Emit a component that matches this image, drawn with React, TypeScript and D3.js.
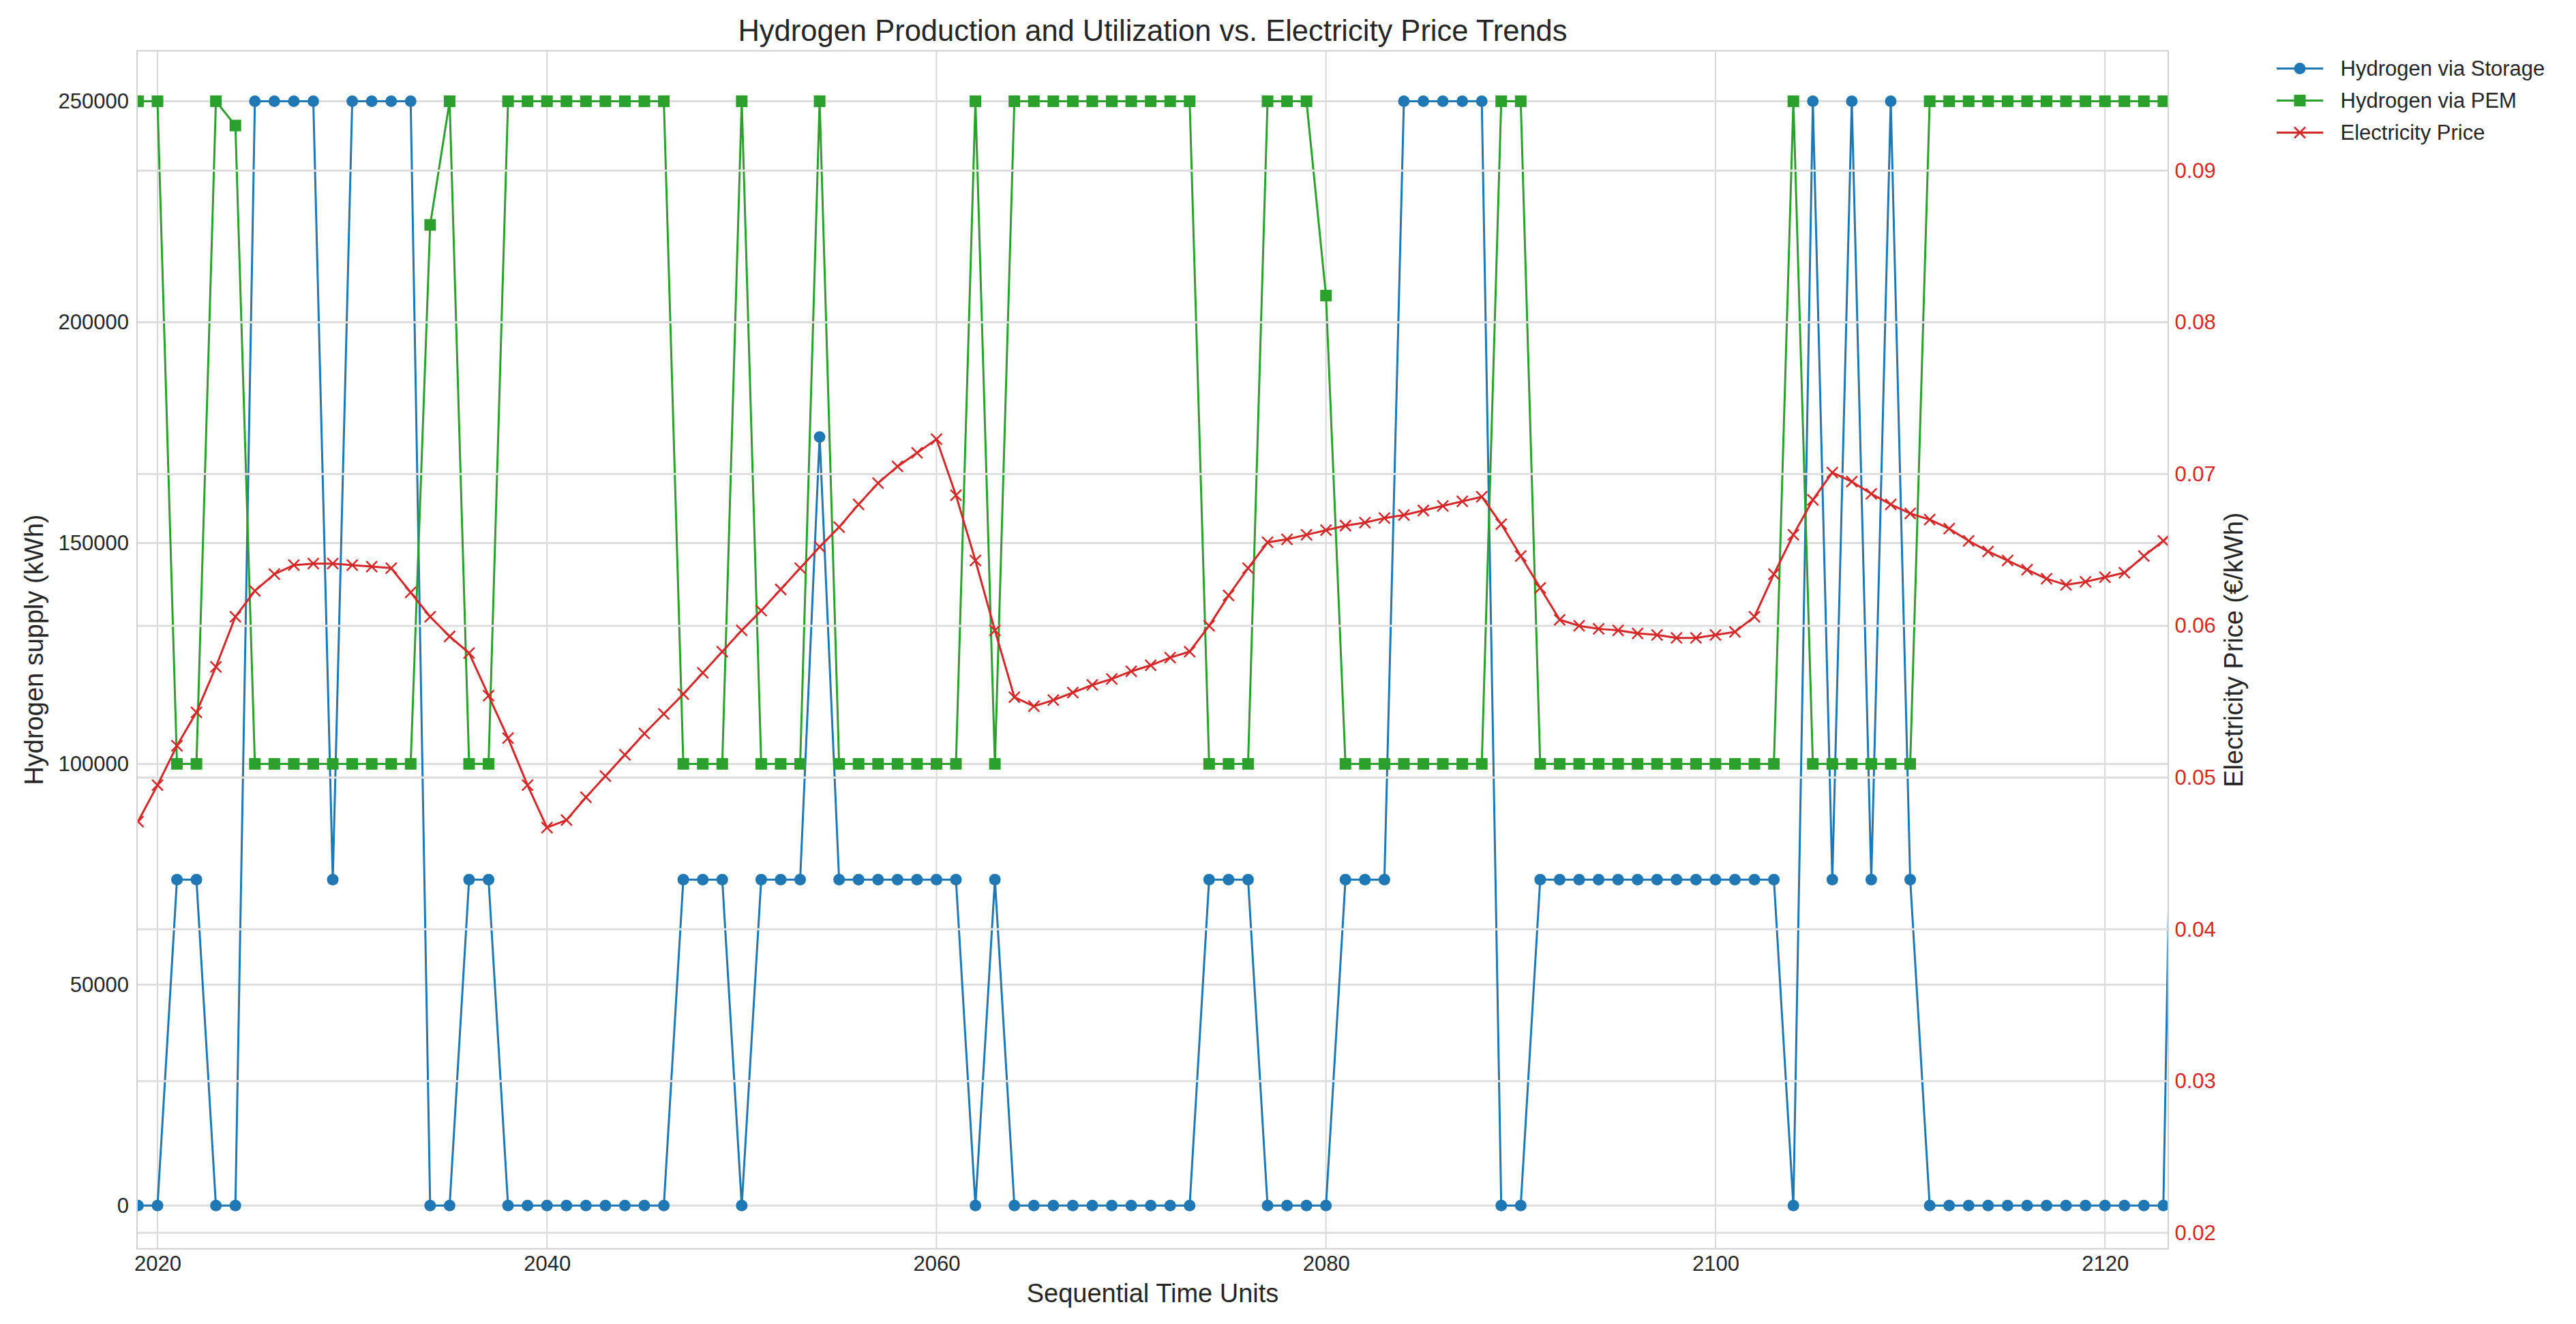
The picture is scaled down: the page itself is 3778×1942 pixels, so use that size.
import React, { useEffect, useRef } from 'react';
import * as d3 from 'd3';

// Sequential time units (first value of the series)
const startYear = 2019;

// Hydrogen via Storage (kWh), one value per time unit from 2019
const storageSupply = [
  0, 0, 73800, 73800, 0, 0, 250000, 250000, 250000, 250000,
  73800, 250000, 250000, 250000, 250000, 0, 0, 73800, 73800, 0,
  0, 0, 0, 0, 0, 0, 0, 0, 73800, 73800,
  73800, 0, 73800, 73800, 73800, 174000, 73800, 73800, 73800, 73800,
  73800, 73800, 73800, 0, 73800, 0, 0, 0, 0, 0,
  0, 0, 0, 0, 0, 73800, 73800, 73800, 0, 0,
  0, 0, 73800, 73800, 73800, 250000, 250000, 250000, 250000, 250000,
  0, 0, 73800, 73800, 73800, 73800, 73800, 73800, 73800, 73800,
  73800, 73800, 73800, 73800, 73800, 0, 250000, 73800, 250000, 73800,
  250000, 73800, 0, 0, 0, 0, 0, 0, 0, 0,
  0, 0, 0, 0, 0, 250000
];

// Hydrogen via PEM (kWh)
const pemSupply = [
  250000, 250000, 100000, 100000, 250000, 244500, 100000, 100000, 100000, 100000,
  100000, 100000, 100000, 100000, 100000, 222000, 250000, 100000, 100000, 250000,
  250000, 250000, 250000, 250000, 250000, 250000, 250000, 250000, 100000, 100000,
  100000, 250000, 100000, 100000, 100000, 250000, 100000, 100000, 100000, 100000,
  100000, 100000, 100000, 250000, 100000, 250000, 250000, 250000, 250000, 250000,
  250000, 250000, 250000, 250000, 250000, 100000, 100000, 100000, 250000, 250000,
  250000, 206000, 100000, 100000, 100000, 100000, 100000, 100000, 100000, 100000,
  250000, 250000, 100000, 100000, 100000, 100000, 100000, 100000, 100000, 100000,
  100000, 100000, 100000, 100000, 100000, 250000, 100000, 100000, 100000, 100000,
  100000, 100000, 250000, 250000, 250000, 250000, 250000, 250000, 250000, 250000,
  250000, 250000, 250000, 250000, 250000, 250000
];

// Electricity price (EUR/kWh)
const electricityPrice = [
  0.0471, 0.0495, 0.0521, 0.0543, 0.0573, 0.0606, 0.0623, 0.0634, 0.0640, 0.0641,
  0.0641, 0.0640, 0.0639, 0.0638, 0.0622, 0.0606, 0.0593, 0.0582, 0.0554, 0.0526,
  0.0495, 0.0467, 0.0472, 0.0487, 0.0501, 0.0515, 0.0529, 0.0542, 0.0555, 0.0569,
  0.0583, 0.0597, 0.0610, 0.0624, 0.0638, 0.0652, 0.0665, 0.0680, 0.0694, 0.0705,
  0.0714, 0.0723, 0.0686, 0.0643, 0.0597, 0.0553, 0.0547, 0.0551, 0.0556, 0.0561,
  0.0565, 0.0570, 0.0574, 0.0579, 0.0583, 0.0600, 0.0620, 0.0638, 0.0655, 0.0657,
  0.0660, 0.0663, 0.0666, 0.0668, 0.0671, 0.0673, 0.0676, 0.0679, 0.0682, 0.0685,
  0.0667, 0.0646, 0.0625, 0.0604, 0.0600, 0.0598, 0.0597, 0.0595, 0.0594, 0.0592,
  0.0592, 0.0594, 0.0596, 0.0606, 0.0634, 0.0660, 0.0683, 0.0701, 0.0695, 0.0687,
  0.0680, 0.0674, 0.0670, 0.0664, 0.0656, 0.0649, 0.0643, 0.0637, 0.0631, 0.0627,
  0.0629, 0.0632, 0.0635, 0.0646, 0.0656, 0.0668
];

const years = d3.range(startYear, startYear + storageSupply.length);

const yearTicks = [2020, 2040, 2060, 2080, 2100, 2120];
const supplyTicks = [0, 50000, 100000, 150000, 200000, 250000];
const priceTicks = [0.02, 0.03, 0.04, 0.05, 0.06, 0.07, 0.08, 0.09];

const seriesNames = ['Hydrogen via Storage', 'Hydrogen via PEM', 'Electricity Price'];

const W = 3778;
const H = 1942;
const FONT = '"Liberation Sans", Arial, Helvetica, sans-serif';
const BLUE = '#1f77b4';
const GREEN = '#2ca02c';
const RED = '#d62728';
const TEXT = '#262626';
const GRID = '#dedede';

const App: React.FC = () => {
  const svgRef = useRef<SVGSVGElement>(null);

  useEffect(() => {
    document.body.style.margin = '0';
    if (!svgRef.current) return;
    const svg = d3.select(svgRef.current);
    svg.selectAll('*').remove();

    const left = 201, right = 3180, top = 74.5, bottom = 1831.7;

    const x = d3.scaleLinear().domain([2018.95, 2123.25]).range([left, right]);
    const yL = d3.scaleLinear().domain([-9785, 261420]).range([bottom, top]);
    const yR = d3.scaleLinear().domain([0.018949, 0.09789]).range([bottom, top]);

    svg.append('defs').append('clipPath').attr('id', 'plot-clip')
      .append('rect')
      .attr('x', left).attr('y', top)
      .attr('width', right - left).attr('height', bottom - top);

    // vertical grid (x)
    svg.append('g').selectAll('line').data(yearTicks).join('line')
      .attr('x1', d => x(d)).attr('x2', d => x(d))
      .attr('y1', top).attr('y2', bottom)
      .attr('stroke', '#d8d8d8').attr('stroke-width', 2);

    // left horizontal grid
    svg.append('g').selectAll('line').data(supplyTicks).join('line')
      .attr('x1', left).attr('x2', right)
      .attr('y1', d => yL(d)).attr('y2', d => yL(d))
      .attr('stroke', GRID).attr('stroke-width', 3);

    const plot = svg.append('g').attr('clip-path', 'url(#plot-clip)');

    const line = (ys: number[], scale: d3.ScaleLinear<number, number>) =>
      d3.line<number>().x((_, i) => x(years[i])).y(d => scale(d))(ys) || '';

    // Hydrogen via Storage
    plot.append('path').attr('d', line(storageSupply, yL))
      .attr('fill', 'none').attr('stroke', BLUE).attr('stroke-width', 3)
      .attr('stroke-linejoin', 'round');
    plot.append('g').selectAll('circle').data(storageSupply).join('circle')
      .attr('cx', (_, i) => x(years[i])).attr('cy', d => yL(d))
      .attr('r', 8.5).attr('fill', BLUE);

    // Hydrogen via PEM
    plot.append('path').attr('d', line(pemSupply, yL))
      .attr('fill', 'none').attr('stroke', GREEN).attr('stroke-width', 3)
      .attr('stroke-linejoin', 'round');
    plot.append('g').selectAll('rect').data(pemSupply).join('rect')
      .attr('x', (_, i) => x(years[i]) - 8.5).attr('y', d => yL(d) - 8.5)
      .attr('width', 17).attr('height', 17).attr('fill', GREEN);

    // right horizontal grid (twin axis, drawn above the left series)
    svg.append('g').selectAll('line').data(priceTicks).join('line')
      .attr('x1', left).attr('x2', right)
      .attr('y1', d => yR(d)).attr('y2', d => yR(d))
      .attr('stroke', GRID).attr('stroke-width', 3);

    // Electricity price
    const plot2 = svg.append('g').attr('clip-path', 'url(#plot-clip)');
    plot2.append('path').attr('d', line(electricityPrice, yR))
      .attr('fill', 'none').attr('stroke', RED).attr('stroke-width', 3)
      .attr('stroke-linejoin', 'round');
    const xm = 8;
    plot2.append('g').selectAll('path').data(electricityPrice).join('path')
      .attr('d', (d, i) => {
        const cx = x(years[i]), cy = yR(d);
        return `M${cx - xm},${cy - xm}L${cx + xm},${cy + xm}M${cx - xm},${cy + xm}L${cx + xm},${cy - xm}`;
      })
      .attr('stroke', RED).attr('stroke-width', 2.5).attr('fill', 'none');

    // spines
    svg.append('rect')
      .attr('x', left).attr('y', top)
      .attr('width', right - left).attr('height', bottom - top)
      .attr('fill', 'none').attr('stroke', '#d0d0d0').attr('stroke-width', 2);

    // axes
    const styleAxis = (g: d3.Selection<SVGGElement, unknown, null, undefined>, color: string) => {
      g.select('.domain').remove();
      g.selectAll('line').remove();
      g.selectAll('text')
        .attr('font-family', FONT)
        .attr('font-size', 31)
        .attr('fill', color);
    };

    svg.append('g')
      .attr('transform', `translate(0,${bottom})`)
      .call(d3.axisBottom(x).tickValues(yearTicks).tickSize(0).tickPadding(10.6).tickFormat(d3.format('d')))
      .call(g => styleAxis(g, TEXT));

    svg.append('g')
      .attr('transform', `translate(${left},0)`)
      .call(d3.axisLeft(yL).tickValues(supplyTicks).tickSize(0).tickPadding(12).tickFormat(d3.format('d')))
      .call(g => styleAxis(g, TEXT));

    svg.append('g')
      .attr('transform', `translate(${right},0)`)
      .call(d3.axisRight(yR).tickValues(priceTicks).tickSize(0).tickPadding(9.5).tickFormat(d3.format('.2f')))
      .call(g => styleAxis(g, RED));

    // title and labels
    svg.append('text')
      .attr('x', (left + right) / 2).attr('y', 60)
      .attr('text-anchor', 'middle')
      .attr('font-family', FONT).attr('font-size', 43.5).attr('fill', TEXT)
      .text('Hydrogen Production and Utilization vs. Electricity Price Trends');

    svg.append('text')
      .attr('x', (left + right) / 2).attr('y', 1910)
      .attr('text-anchor', 'middle')
      .attr('font-family', FONT).attr('font-size', 38).attr('fill', TEXT)
      .text('Sequential Time Units');

    svg.append('text')
      .attr('transform', `translate(50,${(top + bottom) / 2}) rotate(-90)`)
      .attr('dy', '0.35em')
      .attr('text-anchor', 'middle')
      .attr('font-family', FONT).attr('font-size', 38).attr('fill', TEXT)
      .text('Hydrogen supply (kWh)');

    svg.append('text')
      .attr('transform', `translate(3276,${(top + bottom) / 2}) rotate(-90)`)
      .attr('dy', '0.35em')
      .attr('text-anchor', 'middle')
      .attr('font-family', FONT).attr('font-size', 38).attr('fill', TEXT)
      .text('Electricity Price (€/kWh)');

    // legend
    const legend = svg.append('g').attr('transform', 'translate(3339,100.5)');
    const colors = [BLUE, GREEN, RED];
    seriesNames.forEach((name, i) => {
      const row = legend.append('g').attr('transform', `translate(0,${i * 47})`);
      row.append('line').attr('x1', 0).attr('x2', 68).attr('y1', 0).attr('y2', 0)
        .attr('stroke', colors[i]).attr('stroke-width', 3);
      if (i === 0) {
        row.append('circle').attr('cx', 34).attr('cy', 0).attr('r', 8.5).attr('fill', BLUE);
      } else if (i === 1) {
        row.append('rect').attr('x', 25.5).attr('y', -8.5).attr('width', 17).attr('height', 17).attr('fill', GREEN);
      } else {
        row.append('path').attr('d', `M${34 - xm},${-xm}L${34 + xm},${xm}M${34 - xm},${xm}L${34 + xm},${-xm}`)
          .attr('stroke', RED).attr('stroke-width', 2.5);
      }
      row.append('text').attr('x', 93.5).attr('y', 0).attr('dy', '0.35em')
        .attr('font-family', FONT).attr('font-size', 31).attr('fill', TEXT)
        .text(name);
    });
  }, []);

  return (
    <svg ref={svgRef} width={W} height={H} viewBox={`0 0 ${W} ${H}`} style={{ display: 'block', background: '#fff' }} />
  );
};

export default App;
